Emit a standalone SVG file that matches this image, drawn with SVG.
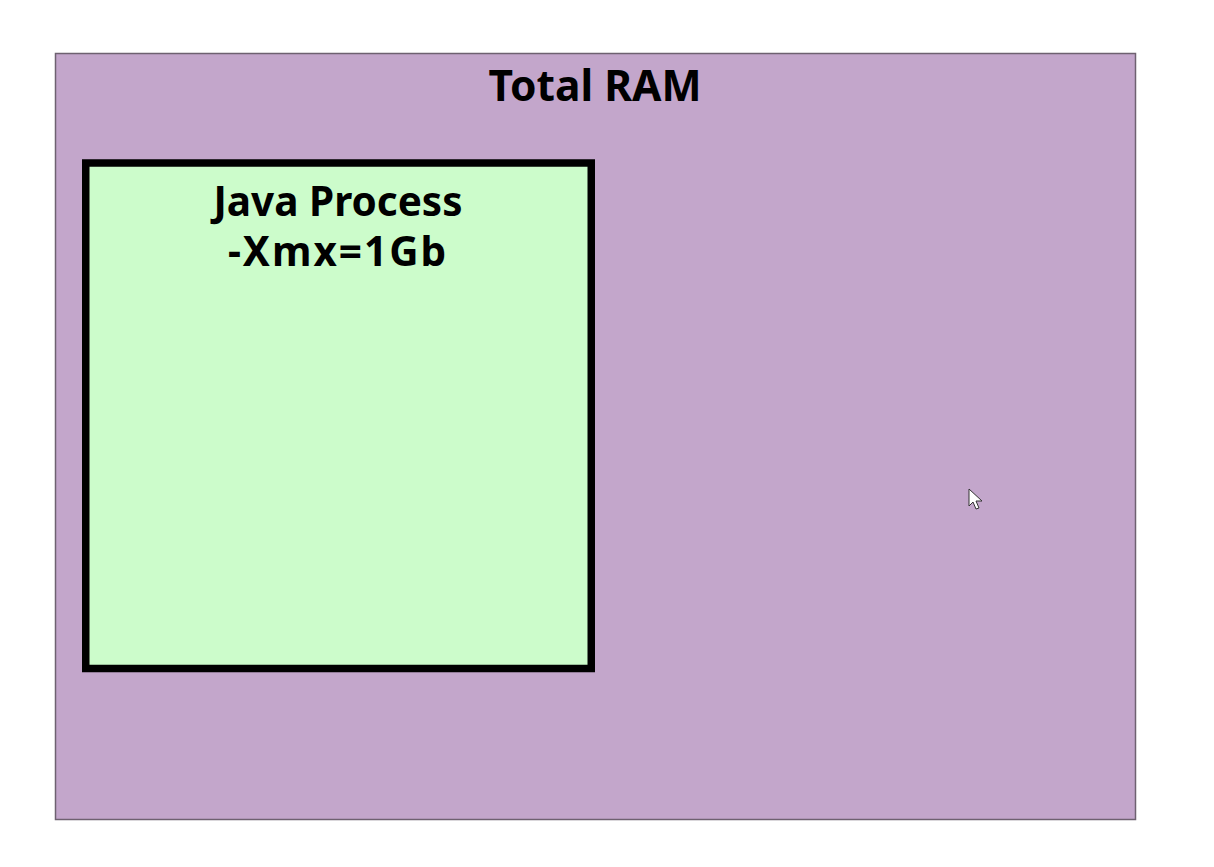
<svg xmlns="http://www.w3.org/2000/svg" width="1214" height="867" viewBox="0 0 1214 867">
<style>
.lbl{font-family:"Noto Sans","Open Sans","Liberation Sans",sans-serif;font-weight:bold;fill:#000;text-anchor:middle}
</style>
<rect width="1214" height="867" fill="#ffffff"/>
<g id="total-ram">
<rect x="55.5" y="53.5" width="1080" height="766" fill="#c3a6cb" stroke="#6e6170" stroke-width="1.5"/>
<text class="lbl" x="595" y="101" font-size="42.5">Total RAM</text>
</g>
<g id="java-process">
<rect x="85.75" y="163" width="505.5" height="505.5" fill="#ccfccb" stroke="#000" stroke-width="7.5"/>
<text class="lbl" x="338" y="216" font-size="40.5">Java Process</text>
<text class="lbl" x="338" y="266" font-size="40.5" letter-spacing="2">-Xmx=1Gb</text>
</g>
<g id="connectors"/>
<g id="cursor">
<polygon points="969,489 969,506 973,502 976,509 979,508 976,501 982,501" fill="#ffffff" stroke="#333" stroke-width="1"/>
</g>
</svg>
